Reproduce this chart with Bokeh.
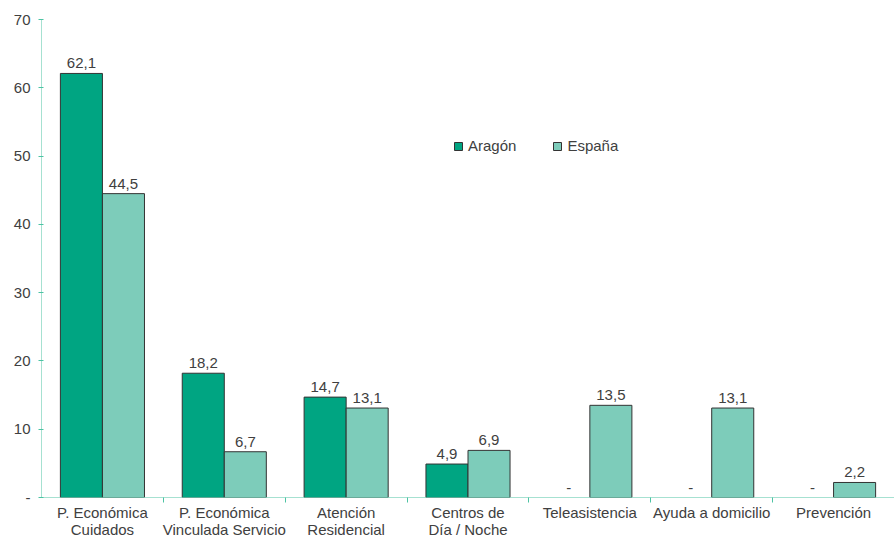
from bokeh.plotting import figure
from bokeh.models import Range1d, FixedTicker, ColumnDataSource, Legend, LegendItem
from bokeh.embed import file_html
from bokeh.resources import INLINE
from bokeh.core.properties import value

categories = ["P. Económica\nCuidados", "P. Económica\nVinculada Servicio",
              "Atención\nResidencial", "Centros de\nDía / Noche",
              "Teleasistencia", "Ayuda a domicilio", "Prevención"]
aragon = [62.1, 18.2, 14.7, 4.9, None, None, None]
espana = [44.5, 6.7, 13.1, 6.9, 13.5, 13.1, 2.2]
y_ticks = [0, 10, 20, 30, 40, 50, 60, 70]
series_names = ["Aragón", "España"]
colors = ["#00a582", "#7dccba"]

FONT = "Liberation Sans"
FS = "15px"
TXT = "#404040"
AXC = "#4cc3a3"

def fmt(v):
    return "-" if v is None else f"{v:.1f}".replace(".", ",")

n = len(categories)
centers = [i + 0.5 for i in range(n)]
bw = 0.345

p = figure(width=894, height=540, output_backend="svg", toolbar_location=None,
           x_range=Range1d(0, n), y_range=Range1d(0, 70),
           min_border_left=41, min_border_right=0, min_border_top=19, min_border_bottom=43)
p.outline_line_color = None
p.xgrid.visible = False
p.ygrid.visible = False

renderers = []
for k, (vals, col) in enumerate(zip([aragon, espana], colors)):
    off = -bw / 2 if k == 0 else bw / 2
    xs = [c + off for c, v in zip(centers, vals) if v is not None]
    tops = [v for v in vals if v is not None]
    src = ColumnDataSource(dict(x=xs, top=tops))
    r = p.vbar(x="x", top="top", bottom=0, width=bw, source=src,
               fill_color=col, line_color="#333333", line_width=1)
    renderers.append(r)
    lx = [c + off for c in centers]
    ly = [0 if v is None else v for v in vals]
    lt = [fmt(v) for v in vals]
    p.text(x=lx, y=ly, text=lt, text_align="center", text_baseline="bottom",
           y_offset=-5, text_font=value(FONT), text_font_size=FS, text_color=TXT)

legend = Legend(items=[LegendItem(label=series_names[i], renderers=[renderers[i]]) for i in range(2)],
                orientation="horizontal", location=(412, 343),
                border_line_color=None, background_fill_alpha=0,
                label_text_font=FONT, label_text_font_size=FS, label_text_color=TXT,
                glyph_width=10, glyph_height=10, label_standoff=5, spacing=36,
                padding=0, margin=0)
p.add_layout(legend)

# y axis
p.yaxis.ticker = FixedTicker(ticks=y_ticks)
p.yaxis.major_label_overrides = {0: "-"}
p.yaxis.axis_line_color = AXC
p.yaxis.axis_line_dash = "1 1"
p.yaxis.major_tick_line_color = AXC
p.yaxis.major_tick_out = 3
p.yaxis.major_tick_in = 2
p.yaxis.minor_tick_line_color = None
p.yaxis.major_label_text_font = FONT
p.yaxis.major_label_text_font_size = FS
p.yaxis.major_label_text_color = TXT
p.yaxis.major_label_standoff = 8

# x axis
p.xaxis.ticker = FixedTicker(ticks=centers, minor_ticks=list(range(1, n)))
p.xaxis.major_label_overrides = {c: lab for c, lab in zip(centers, categories)}
p.xaxis.axis_line_color = AXC
p.xaxis.axis_line_dash = "1 1"
p.xaxis.major_tick_line_color = None
p.xaxis.major_tick_out = 0
p.xaxis.major_tick_in = 0
p.xaxis.minor_tick_line_color = AXC
p.xaxis.minor_tick_out = 5
p.xaxis.minor_tick_in = 0
p.xaxis.major_label_text_font = FONT
p.xaxis.major_label_text_font_size = FS
p.xaxis.major_label_text_color = TXT
p.xaxis.major_label_text_line_height = 1.0
p.xaxis.major_label_standoff = 1

open("out.html", "w").write(file_html(p, INLINE))
